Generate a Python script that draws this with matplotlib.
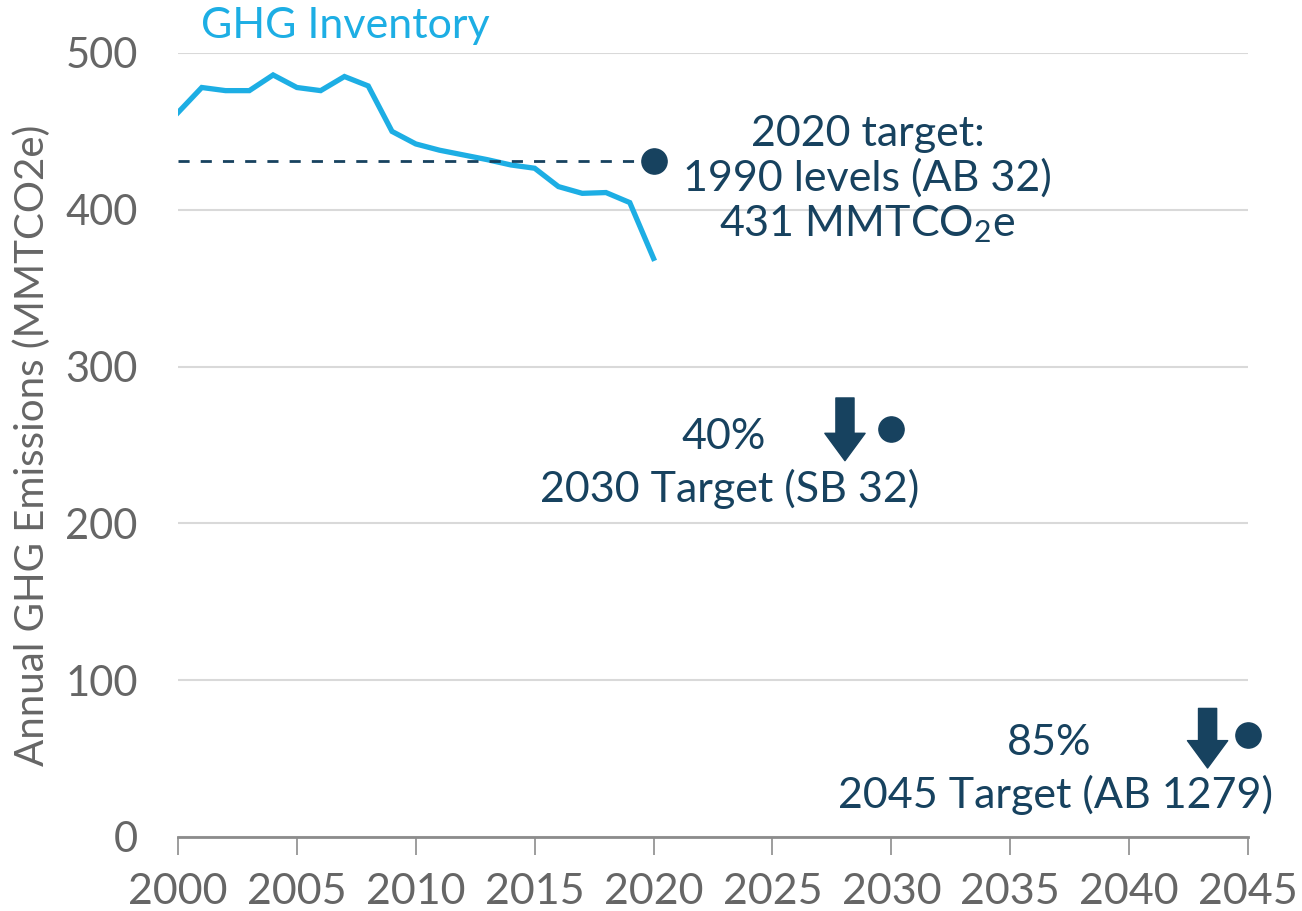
import matplotlib
matplotlib.use("Agg")
import matplotlib.pyplot as plt

years = list(range(2000, 2021))
emissions = [462, 478, 476, 476, 486, 478, 476, 485, 479, 450, 442, 438, 435,
             432, 428.6, 426.5, 414.8, 410.5, 411, 404.6, 369]
target_years = [2020, 2030, 2045]
target_values = [431, 260, 65]
level_1990 = 431
xticks = list(range(2000, 2046, 5))
yticks = [0, 100, 200, 300, 400, 500]

LIGHT = "#1DAEE4"
NAVY = "#17425F"
GREY = "#666666"
FONT = ["Lato", "DejaVu Sans"]

plt.rcParams["font.family"] = FONT
plt.rcParams["mathtext.fontset"] = "custom"
plt.rcParams["mathtext.rm"] = "Lato"
plt.rcParams["mathtext.it"] = "Lato:italic"
plt.rcParams["mathtext.bf"] = "Lato:bold"

fig = plt.figure(figsize=(13.02, 9.11), dpi=100)
ax = fig.add_axes([178/1302, 1-837/911, (1248-178)/1302, (837-53)/911])

ax.set_xlim(2000, 2045)
ax.set_ylim(0, 500)

ax.yaxis.grid(True, color="#D9D9D9", linewidth=1.5)
ax.set_axisbelow(True)
for s in ["left", "right", "top"]:
    ax.spines[s].set_visible(False)
ax.spines["bottom"].set_color("#8C8C8C")
ax.spines["bottom"].set_linewidth(2)

ax.set_xticks(xticks)
ax.set_yticks(yticks)
ax.tick_params(axis="x", direction="out", length=13, width=1.2, color="#8C8C8C",
               labelsize=31, labelcolor=GREY, pad=13)
ax.tick_params(axis="y", length=0, labelsize=30, labelcolor=GREY, pad=29)

ax.set_ylabel("Annual GHG Emissions (MMTCO2e)", fontsize=29, color=GREY, labelpad=10)

# inventory line
ax.plot(years, emissions, color=LIGHT, linewidth=3.8, solid_joinstyle="miter")
# dashed 1990 level
ax.plot([2000, 2019.8], [level_1990, level_1990], color=NAVY, linewidth=2,
        linestyle=(0, (4, 4)))
# target dots
ax.scatter(target_years, target_values, s=330, color=NAVY, zorder=5, clip_on=False)

# arrows
for x, y0, y1 in [(2028.05, 280, 240), (2043.3, 82, 44)]:
    ax.annotate("", xy=(x, y1), xytext=(x, y0),
                arrowprops=dict(arrowstyle="simple,head_width=1.0,head_length=0.68,tail_width=0.45",
                                color=NAVY, mutation_scale=29, shrinkA=0, shrinkB=0))

# texts
ax.text(2000.95, 517, "GHG Inventory", color=LIGHT, fontsize=31, ha="left", va="center")
ax.text(2029.0, 419, "2020 target:\n1990 levels (AB 32)\n431 MMTCO$_2$e", color=NAVY,
        fontsize=31, ha="center", va="center", linespacing=1.17)
ax.text(2022.95, 255, "40%", color=NAVY, fontsize=31, ha="center", va="center")
ax.text(2023.2, 222, "2030 Target (SB 32)", color=NAVY, fontsize=31, ha="center", va="center")
ax.text(2036.65, 60, "85%", color=NAVY, fontsize=31, ha="center", va="center")
ax.text(2036.9, 27, "2045 Target (AB 1279)", color=NAVY, fontsize=31, ha="center", va="center")

fig.savefig("out.png", dpi=100)
